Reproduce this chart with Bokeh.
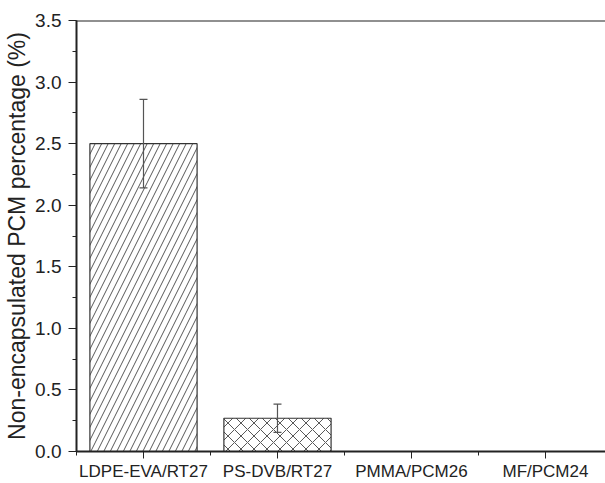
import numpy as np
from bokeh.plotting import figure
from bokeh.models import (ColumnDataSource, Whisker, FixedTicker, Range1d, Span, TeeHead,
                          NumeralTickFormatter)
from bokeh.embed import file_html
from bokeh.resources import INLINE

categories = ["LDPE-EVA/RT27", "PS-DVB/RT27", "PMMA/PCM26", "MF/PCM24"]
values = [2.50, 0.27, 0.0, 0.0]
errors = [0.36, 0.115, 0.0, 0.0]
hatches = ["right_diagonal_line", "diagonal_cross", " ", " "]

x = np.arange(1, len(categories) + 1)

p = figure(width=605, height=483, output_backend="svg", toolbar_location=None,
           x_range=Range1d(0.5, 4.448), y_range=Range1d(0, 3.5),
           min_border_left=76, min_border_right=0, min_border_top=20, min_border_bottom=30)
p.outline_line_color = None
p.grid.visible = False
p.background_fill_color = "white"

nz = [i for i, v in enumerate(values) if v > 0]
src_bar = ColumnDataSource(dict(x=x[nz], top=[values[i] for i in nz], hatch=[hatches[i] for i in nz]))
p.vbar(x="x", top="top", width=0.8, bottom=0, source=src_bar, fill_color="white",
       line_color="#333333", line_width=1.2, hatch_pattern="hatch", hatch_color="#444444",
       hatch_weight=0.9, hatch_scale=13)

src_err = ColumnDataSource(dict(x=x[nz], upper=[values[i] + errors[i] for i in nz],
                                lower=[values[i] - errors[i] for i in nz]))
w = Whisker(base="x", upper="upper", lower="lower", source=src_err, level="overlay",
            line_color="#555555", line_width=1.2,
            upper_head=TeeHead(size=8, line_color="#555555", line_width=1.2),
            lower_head=TeeHead(size=8, line_color="#555555", line_width=1.2))
p.add_layout(w)

p.add_layout(Span(location=3.5, dimension="width", line_color="#222222", line_width=2))

font = "Liberation Sans"
p.xaxis.ticker = FixedTicker(ticks=list(x), minor_ticks=list(np.arange(0.5, 5.0, 1.0)))
p.xaxis.major_label_overrides = {int(i): c for i, c in zip(x, categories)}
p.xaxis.major_label_text_font = font
p.xaxis.major_label_text_font_size = "17px"
p.xaxis.major_label_text_color = "#222222"
p.xaxis.major_tick_out = 7
p.xaxis.major_tick_in = 0
p.xaxis.minor_tick_out = 4
p.xaxis.minor_tick_in = 0
p.xaxis.axis_line_width = 2
p.xaxis.axis_line_color = "#222222"
p.xaxis.major_tick_line_color = "#222222"
p.xaxis.minor_tick_line_color = "#222222"
p.xaxis.major_label_standoff = 3

p.yaxis.ticker = FixedTicker(ticks=list(np.arange(0, 3.51, 0.5)), minor_ticks=list(np.arange(0, 3.51, 0.25)))
p.yaxis.formatter = NumeralTickFormatter(format="0.0")
p.yaxis.axis_label = "Non-encapsulated PCM percentage (%)"
p.yaxis.axis_label_text_font = font
p.yaxis.axis_label_text_font_size = "23px"
p.yaxis.axis_label_text_font_style = "normal"
p.yaxis.axis_label_text_color = "#222222"
p.yaxis.major_label_text_font = font
p.yaxis.major_label_text_font_size = "19px"
p.yaxis.major_label_text_color = "#222222"
p.yaxis.major_tick_out = 8
p.yaxis.major_tick_in = 0
p.yaxis.minor_tick_out = 4
p.yaxis.minor_tick_in = 0
p.yaxis.axis_line_width = 2
p.yaxis.axis_line_color = "#222222"
p.yaxis.major_tick_line_color = "#222222"
p.yaxis.minor_tick_line_color = "#222222"
p.yaxis.major_label_standoff = 7
p.yaxis.axis_label_standoff = 2

open("out.html", "w").write(file_html(p, INLINE))
